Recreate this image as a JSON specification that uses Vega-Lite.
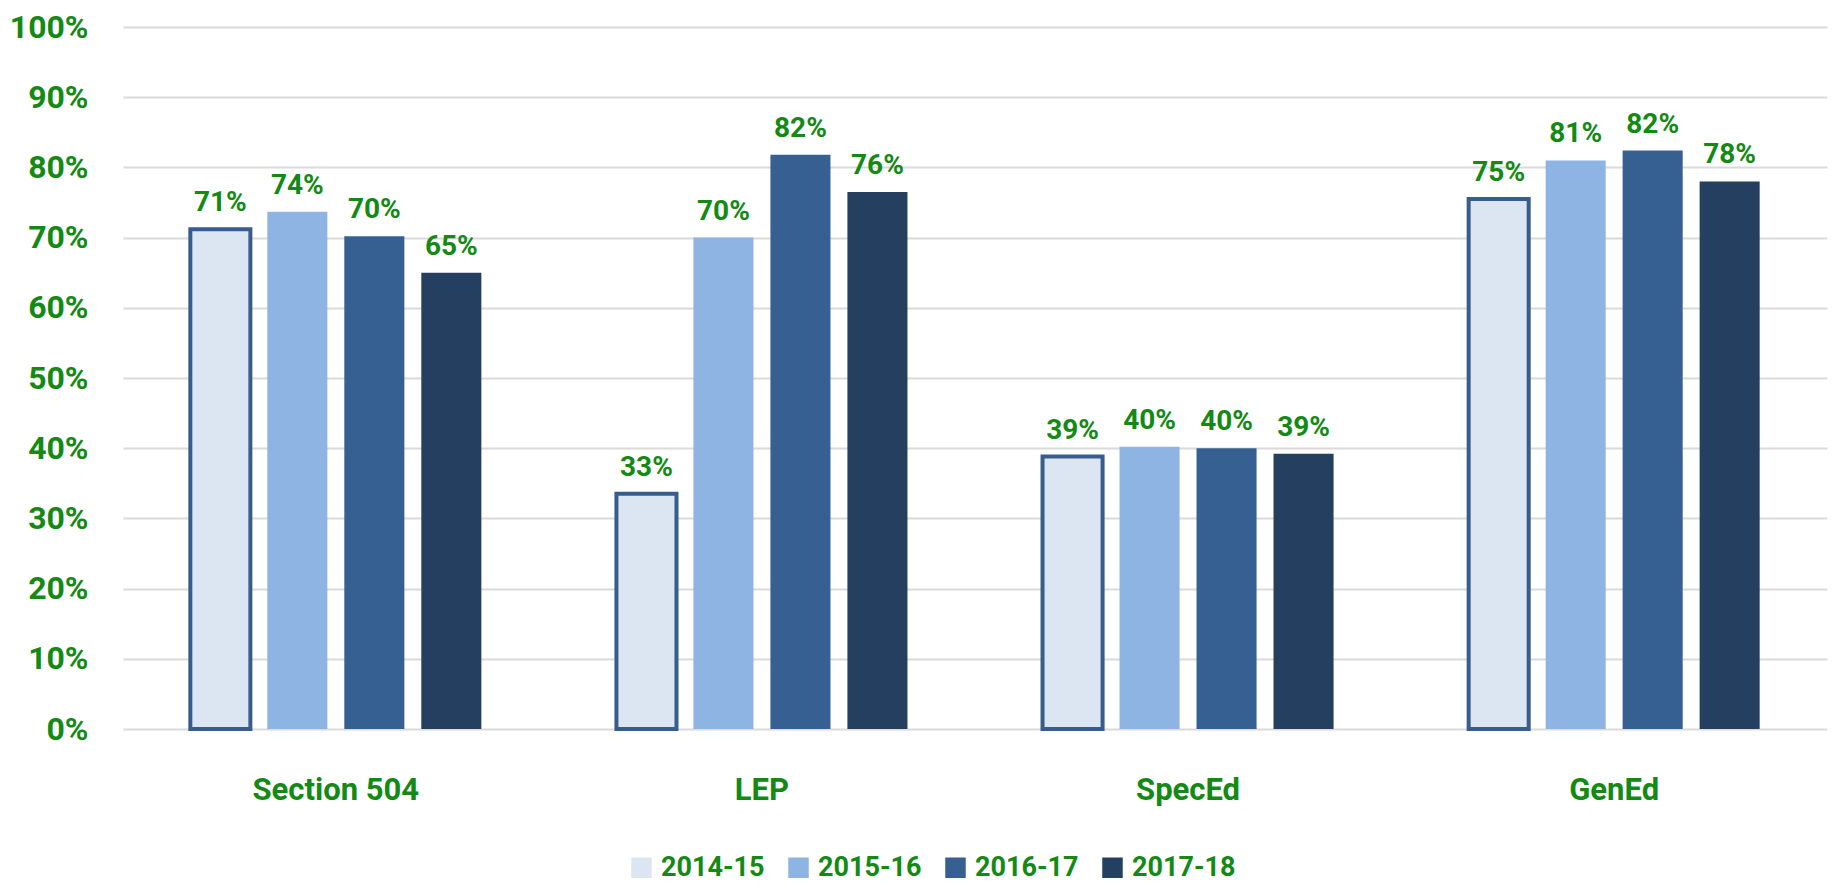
{
  "$schema": "https://vega.github.io/schema/vega-lite/v6.json",
  "width": 1704,
  "height": 702,
  "autosize": {"type": "none"},
  "padding": {"left": 123, "top": 27, "right": 8, "bottom": 165},
  "background": "white",
  "config": {
    "view": {"stroke": null},
    "font": "Roboto"
  },
  "data": {
    "values": [
      {"group": "Section 504", "year": "2014-15", "value": 0.712, "label": "71%"},
      {"group": "Section 504", "year": "2015-16", "value": 0.737, "label": "74%"},
      {"group": "Section 504", "year": "2016-17", "value": 0.702, "label": "70%"},
      {"group": "Section 504", "year": "2017-18", "value": 0.65, "label": "65%"},
      {"group": "LEP", "year": "2014-15", "value": 0.335, "label": "33%"},
      {"group": "LEP", "year": "2015-16", "value": 0.70, "label": "70%"},
      {"group": "LEP", "year": "2016-17", "value": 0.818, "label": "82%"},
      {"group": "LEP", "year": "2017-18", "value": 0.765, "label": "76%"},
      {"group": "SpecEd", "year": "2014-15", "value": 0.388, "label": "39%"},
      {"group": "SpecEd", "year": "2015-16", "value": 0.402, "label": "40%"},
      {"group": "SpecEd", "year": "2016-17", "value": 0.40, "label": "40%"},
      {"group": "SpecEd", "year": "2017-18", "value": 0.392, "label": "39%"},
      {"group": "GenEd", "year": "2014-15", "value": 0.755, "label": "75%"},
      {"group": "GenEd", "year": "2015-16", "value": 0.81, "label": "81%"},
      {"group": "GenEd", "year": "2016-17", "value": 0.824, "label": "82%"},
      {"group": "GenEd", "year": "2017-18", "value": 0.78, "label": "78%"}
    ]
  },
  "encoding": {
    "x": {
      "field": "group",
      "type": "nominal",
      "sort": ["Section 504", "LEP", "SpecEd", "GenEd"],
      "scale": {"paddingInner": 0.317, "paddingOuter": 0.158},
      "axis": {
        "title": null,
        "labelAngle": 0,
        "domain": false,
        "ticks": false,
        "labelPadding": 46,
        "labelFont": "Roboto",
        "labelFontSize": 31,
        "labelFontWeight": "bold",
        "labelColor": "#138a13"
      }
    },
    "xOffset": {
      "field": "year",
      "type": "nominal",
      "scale": {"paddingInner": 0.22, "paddingOuter": 0}
    },
    "y": {
      "field": "value",
      "type": "quantitative",
      "scale": {"domain": [0, 1], "nice": false},
      "axis": {
        "title": null,
        "values": [0, 0.1, 0.2, 0.3, 0.4, 0.5, 0.6, 0.7, 0.8, 0.9, 1],
        "format": ".0%",
        "domain": false,
        "ticks": false,
        "labelPadding": 35,
        "gridColor": "#dadada",
        "gridWidth": 2,
        "labelFont": "Roboto",
        "labelFontSize": 32,
        "labelFontWeight": "bold",
        "labelColor": "#138a13"
      }
    }
  },
  "layer": [
    {
      "mark": {"type": "bar"},
      "encoding": {
        "color": {
          "field": "year",
          "type": "nominal",
          "scale": {
            "domain": ["2014-15", "2015-16", "2016-17", "2017-18"],
            "range": ["#dce6f2", "#8eb4e3", "#366092", "#243f60"]
          },
          "legend": {
            "title": null,
            "orient": "none",
            "legendX": 505,
            "legendY": 827,
            "direction": "horizontal",
            "symbolType": "square",
            "symbolSize": 420,
            "symbolStrokeWidth": 0,
            "columnPadding": 20,
            "labelFont": "Roboto",
            "labelFontSize": 27,
            "labelFontWeight": "bold",
            "labelColor": "#138a13",
            "labelOffset": 6
          }
        },
        "stroke": {
          "condition": {"test": "datum.year === '2014-15'", "value": "#375d8c"},
          "value": null
        },
        "strokeWidth": {
          "condition": {"test": "datum.year === '2014-15'", "value": 4},
          "value": 0
        }
      }
    },
    {
      "mark": {
        "type": "text",
        "baseline": "alphabetic",
        "dy": -18,
        "font": "Roboto",
        "fontSize": 28,
        "fontWeight": "bold",
        "color": "#138a13"
      },
      "encoding": {
        "text": {"field": "label"}
      }
    }
  ]
}
